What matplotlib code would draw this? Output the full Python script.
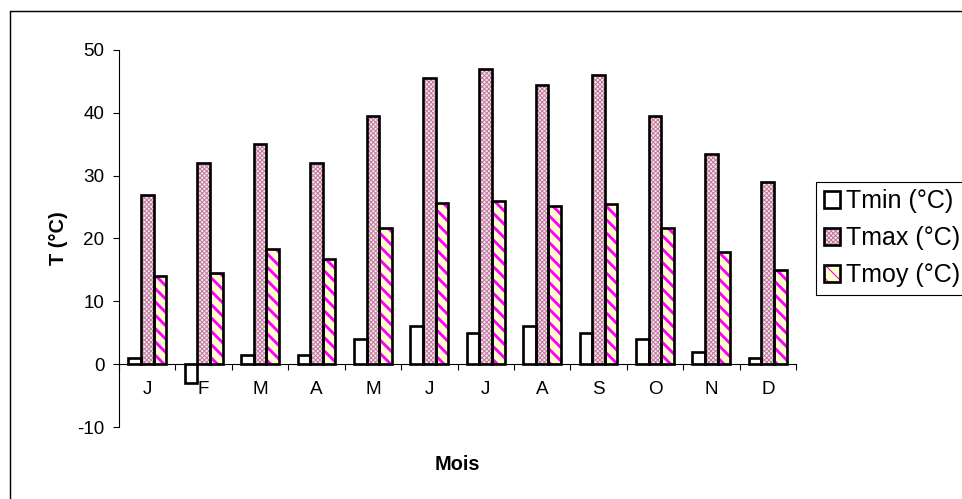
import matplotlib
matplotlib.use('Agg')
import matplotlib.pyplot as plt
from matplotlib.patches import Rectangle
from matplotlib.legend_handler import HandlerTuple
import numpy as np

# Données
mois = ['J', 'F', 'M', 'A', 'M', 'J', 'J', 'A', 'S', 'O', 'N', 'D']
tmin = [1, -3, 1.5, 1.5, 4, 6, 5, 6, 5, 4, 2, 1]
tmax = [27, 32, 35, 32, 39.5, 45.5, 47, 44.5, 46, 39.5, 33.5, 29]
tmoy = [14, 14.5, 18.3, 16.7, 21.7, 25.7, 26, 25.2, 25.5, 21.7, 17.8, 15]
etiquettes = ['Tmin (°C)', 'Tmax (°C)', 'Tmoy (°C)']

plt.rcParams['font.family'] = ['Liberation Sans', 'DejaVu Sans']
plt.rcParams['axes.unicode_minus'] = False

DPI = 80
fig = plt.figure(figsize=(962 / DPI, 499 / DPI), dpi=DPI)
ax = fig.add_axes([119 / 962, 1 - 427 / 499, (796 - 119) / 962, (427 - 50) / 499])

x = np.arange(len(mois))
w = 0.224

# (valeurs, fond, hachure, couleur hachure, épaisseur hachure)
series = [
    (tmin, 'white', None, 'white', 1.0),
    (tmax, '#f7e9f0', 'xxxxxx', '#c27a9e', 0.9),
    (tmoy, '#ffffcc', '\\\\', '#ff00ff', 2.6),
]

poignees = []
for i, (vals, fond, hach, coul_h, lw_h) in enumerate(series):
    pos = x + (i - 1) * w
    with plt.rc_context({'hatch.linewidth': lw_h}):
        b1 = ax.bar(pos, vals, w, color=fond, hatch=hach, edgecolor=coul_h, linewidth=0, zorder=2)
    for p in b1:
        if hasattr(p, 'set_hatch_linewidth'):
            p.set_hatch_linewidth(lw_h)
    b2 = ax.bar(pos, vals, w, fill=False, edgecolor='black', linewidth=2.4, zorder=3)
    poignees.append((b1[0], b2[0]))

ax.set_xlim(-0.5, len(mois) - 0.5)
ax.set_ylim(-10, 50)
ax.set_yticks(range(-10, 51, 10))

ax.spines['top'].set_visible(False)
ax.spines['right'].set_visible(False)
ax.spines['bottom'].set_position(('data', 0))
ax.spines['left'].set_linewidth(1.0)
ax.spines['bottom'].set_linewidth(1.0)

ax.set_xticks(x)
ax.set_xticklabels(mois)
ax.set_xticks(np.arange(-0.5, len(mois)), minor=True)
ax.tick_params(axis='x', which='major', length=0, pad=15, labelsize=17)
ax.tick_params(axis='x', which='minor', length=5, width=1, direction='out')
ax.tick_params(axis='y', length=5, width=1, direction='out', pad=8, labelsize=17)

ax.set_ylabel('T (°C)', fontsize=18, fontweight='bold')
ax.yaxis.label.set_va('center')
ax.yaxis.set_label_coords((58 - 119) / (796 - 119), 0.5)
ax.set_xlabel('Mois', fontsize=18, fontweight='bold')
ax.xaxis.label.set_va('center')
ax.xaxis.set_label_coords(0.5, (427 - 465) / (427 - 50))

leg = fig.legend(poignees, etiquettes, handler_map={tuple: HandlerTuple(ndivide=1)},
                 loc='upper left', bbox_to_anchor=(816 / 962, 1 - 182 / 499),
                 fontsize=22.5, handlelength=0.66, handleheight=0.66, handletextpad=0.25,
                 labelspacing=0.52, borderpad=0.3, borderaxespad=0, fancybox=False,
                 edgecolor='black', framealpha=1)
leg.get_frame().set_linewidth(1.0)

# Cadre de la zone de graphique (coupé à droite et en bas)
fig.add_artist(Rectangle((9.5 / 962, 1 - 10.5 / 499 - 2), 3, 2, fill=False, edgecolor='black',
                         linewidth=1.3, transform=fig.transFigure, clip_on=False))

fig.savefig('out.png', dpi=DPI)
